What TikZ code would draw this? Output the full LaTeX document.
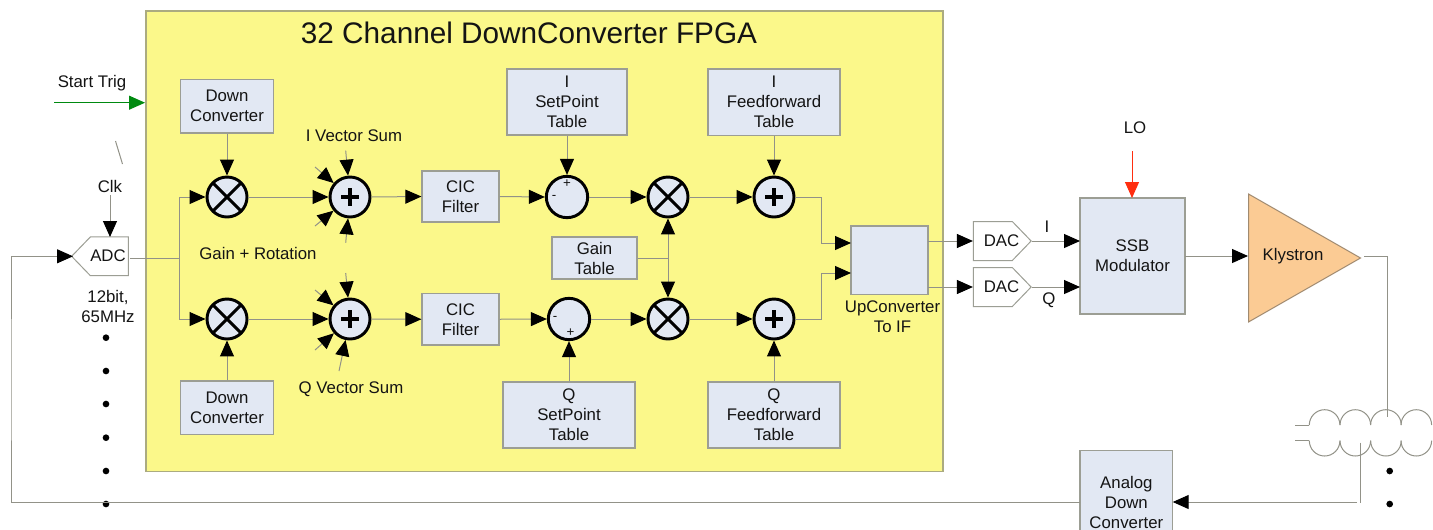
\documentclass[tikz,border=0pt]{standalone}
\usepackage{fontspec}
\setmainfont{Liberation Sans}
\usetikzlibrary{arrows.meta,shapes.geometric,shapes.symbols}
\definecolor{fpgay}{HTML}{FBF88A}
\definecolor{fpgab}{HTML}{ABAB80}
\definecolor{boxf}{HTML}{E2E8F3}
\definecolor{boxb}{HTML}{9C9E94}
\definecolor{wire}{HTML}{929288}
\definecolor{klyf}{HTML}{FBCB94}
\definecolor{klyb}{HTML}{A08A70}
\definecolor{txt}{HTML}{141414}
\definecolor{redw}{HTML}{FF2E10}
\definecolor{greenw}{HTML}{008A10}
\tikzset{
  w/.style={minimum width=#1*0.75pt},
  h/.style={minimum height=#1*0.75pt},
  lab/.style={inner sep=0pt,align=center,text=txt,font=\fontsize{12.6}{15}\selectfont},
  small/.style={inner sep=0pt,text=txt,font=\fontsize{10}{12}\selectfont},
  blockbox/.style={lab,rectangle,draw=boxb,fill=boxf,line width=0.9pt},
  conv/.style={lab,signal,draw=boxb,fill=white,line width=0.75pt,signal pointer angle=92,signal from=nowhere},
  circ/.style={circle,draw=black,fill=boxf,line width=2.2pt,inner sep=0pt,minimum size=30pt},
  multnode/.style={circ,path picture={
     \draw[line width=2.2pt] ([shift={(-16,-16)}]path picture bounding box.center) -- ([shift={(16,16)}]path picture bounding box.center);
     \draw[line width=2.2pt] ([shift={(-16,16)}]path picture bounding box.center) -- ([shift={(16,-16)}]path picture bounding box.center);}},
  sumnode/.style={circ,path picture={
     \draw[line width=2.4pt] ([shift={(-9,0)}]path picture bounding box.center) -- ([shift={(9,0)}]path picture bounding box.center);
     \draw[line width=2.4pt] ([shift={(0,-9)}]path picture bounding box.center) -- ([shift={(0,9)}]path picture bounding box.center);}},
  diffnode/.style={circ,minimum size=31pt},
  wl/.style={draw=wire,line width=0.75pt},
  arr/.style={wl,-{Triangle[length=12pt,width=10.5pt,color=black]}},
  dotm/.style={circle,fill=black,inner sep=0pt,minimum size=5pt},
}
\begin{document}
\begin{tikzpicture}[x=0.75pt,y=-0.75pt]
\useasboundingbox (0,0) rectangle (1433,529);
\clip (0,0) rectangle (1433,529);
\fill[white] (0,0) rectangle (1433,529);
% FPGA
\node[rectangle,draw=fpgab,fill=fpgay,line width=0.9pt,inner sep=0pt,w=797,h=460.5] (fpga) at (544.5,241.25) {};
\node[lab,font=\fontsize{22.3}{27}\selectfont] (title) at (529,33) {32 Channel DownConverter FPGA};
% blocks
\node[blockbox,w=92.5,h=53.5] (dc1) at (227,106.25) {Down\\Converter};
\node[blockbox,w=92.5,h=53.5] (dc2) at (227,407.75) {Down\\Converter};
\node[blockbox,w=77,h=51] (cic1) at (460.5,196.5) {CIC\\Filter};
\node[blockbox,w=77,h=51.5] (cic2) at (460.5,319.25) {CIC\\Filter};
\node[blockbox,w=120,h=66] (sp1) at (567,102) {I\\SetPoint\\Table};
\node[blockbox,w=132,h=66.5] (ff1) at (774,102.25) {I\\Feedforward\\Table};
\node[blockbox,w=132,h=66] (sp2) at (569,415) {Q\\SetPoint\\Table};
\node[blockbox,w=132,h=66] (ff2) at (774,415) {Q\\Feedforward\\Table};
\node[blockbox,w=85,h=42] (gain) at (594.5,258) {Gain\\Table};
\node[blockbox,w=77,h=68.5] (up) at (889.5,260.25) {};
\node[lab] (uplab) at (892.5,317) {UpConverter\\To IF};
\node[blockbox,w=105,h=116] (ssb) at (1132.5,256) {SSB\\Modulator};
\node[blockbox,w=92.7,h=102.6] (adb) at (1126.35,502) {Analog\\Down\\Converter};
% circles
\node[multnode] (m1) at (227,197) {};
\node[multnode] (m2) at (227,319) {};
\node[sumnode] (s1) at (350,197) {};
\node[sumnode] (s2) at (350,319) {};
\node[diffnode] (d1) at (567,197) {};
\node[diffnode] (d2) at (569,319) {};
\node[multnode] (m3) at (668,197) {};
\node[multnode] (m4) at (668,319) {};
\node[sumnode] (p1) at (774,197) {};
\node[sumnode] (p2) at (774,319) {};
\node[small] (dp1) at (567,183.5) {+};
\node[small] (dm1) at (554,197) {-};
\node[small] (dm2) at (555,318.5) {-};
\node[small] (dp2) at (570.5,332.5) {+};
% converters
\node[conv,signal to=west,w=56.7,h=38.7] (adc) at (109.35,256.3) {};
\node[lab] (adct) at (108,256) {ADC};
\node[conv,signal to=east,w=57.7,h=39] (dac1) at (992.85,241) {};
\node[lab] (dac1t) at (1001.5,240.5) {DAC};
\node[conv,signal to=east,w=57.7,h=39] (dac2) at (992.85,287) {};
\node[lab] (dac2t) at (1001.5,286.5) {DAC};
% klystron
\node[isosceles triangle,isosceles triangle stretches,draw=klyb,fill=klyf,line width=0.75pt,inner sep=0pt,w=128,h=112,anchor=lower side] (kly) at (1248,258) {};
\node[lab] (klyt) at (1293,256) {Klystron};
% labels
\node[lab] (st) at (92,83.5) {Start Trig};
\node[lab] (clk) at (110,186.5) {Clk};
\node[lab] (adcn) at (108,306) {12bit,\\65MHz};
\node[lab] (ivs) at (354,135.5) {I Vector Sum};
\node[lab] (qvs) at (351,389) {Q Vector Sum};
\node[lab] (gr) at (258,253.5) {Gain + Rotation};
\node[lab] (lo) at (1135,128) {LO};
\node[lab] (il) at (1047,227) {I};
\node[lab] (ql) at (1049,300) {Q};
% dots
\foreach \n/\yy in {a/337.7,b/371,c/404,d/437.7,e/471,f/504}{\node[dotm] (ld\n) at (106,\yy) {};}
\node[dotm] (rd1) at (1389.7,471) {};
\node[dotm] (rd2) at (1389.7,504) {};
% free ends
\coordinate (tr0) at (54,102.7); \coordinate (tr1) at (145,102.7);
\coordinate (ck0) at (110,195); \coordinate (ck1) at (110,237);
\coordinate (tk0) at (115.5,141); \coordinate (tk1) at (122.5,164);
\coordinate (ax) at (130,258); \coordinate (aj) at (179.5,258);
\coordinate (i1) at (345.7,150.7); \coordinate (i2) at (315,167); \coordinate (i3) at (315,226); \coordinate (i4) at (345.7,242.7);
\coordinate (q1) at (345.7,273); \coordinate (q2) at (315,290); \coordinate (q3) at (315,350); \coordinate (q4) at (339,371);
\coordinate (gj) at (668,258);
\coordinate (j1) at (821,220); \coordinate (j2) at (821,296);
\coordinate (u1) at (851,243); \coordinate (u2) at (851,273);
\coordinate (uo1) at (928,241); \coordinate (uo2) at (928,287);
\coordinate (si1) at (1080,241); \coordinate (si2) at (1080,287);
\coordinate (lo0) at (1132,151); \coordinate (lo1) at (1132,198);
\coordinate (so) at (1185,256); \coordinate (ki) at (1248,256);
\coordinate (ko) at (1364,256); \coordinate (kc) at (1387,256); \coordinate (kd) at (1387,416.7);
\coordinate (pu0) at (1360.7,442.7); \coordinate (pu1) at (1360.7,503);
\coordinate (pu2) at (1357,502); \coordinate (abe) at (1172.7,502); \coordinate (abw) at (1080,502);
\coordinate (lft) at (11,380); \coordinate (adin) at (73,256.3);
\coordinate (cu1) at (1309.3,425); \coordinate (cu2) at (1340,425); \coordinate (cu3) at (1370.6,425); \coordinate (cu4) at (1401,425);
\coordinate (cl1) at (1309.3,440.7); \coordinate (cl2) at (1340,440.7); \coordinate (cl3) at (1370.6,440.7); \coordinate (cl4) at (1401,440.7);
\coordinate (lu) at (1295,425); \coordinate (ll) at (1295,440.7);
% connectors
\draw[wl,-{Triangle[length=12pt,width=10.5pt,color=greenw]},draw=greenw] (tr0) -- (tr1);
\draw[wl] (tk0) -- (tk1);
\draw[arr] (ck0) -- (ck1);
\draw[wl] (ax) -- (aj);
\draw[arr] (aj) |- (m1.west);
\draw[arr] (aj) |- (m2.west);
\draw[arr] (dc1.south) -- (m1.north);
\draw[arr] (dc2.north) -- (m2.south);
\draw[arr] (m1.east) -- (s1.west);
\draw[arr] (m2.east) -- (s2.west);
\foreach \c in {i1,i2,i3,i4}{\draw[arr] (\c) -- (s1);}
\foreach \c in {q1,q2,q3,q4}{\draw[arr] (\c) -- (s2);}
\draw[arr] (s1.east) -- (cic1.west);
\draw[arr] (s2.east) -- (cic2.west);
\draw[arr] (cic1.east) -- (d1.west);
\draw[arr] (cic2.east) -- (d2.west);
\draw[arr] (d1.east) -- (m3.west);
\draw[arr] (d2.east) -- (m4.west);
\draw[arr] (sp1.south) -- (d1.north);
\draw[arr] (sp2.north) -- (d2.south);
\draw[arr] (m3.east) -- (p1.west);
\draw[arr] (m4.east) -- (p2.west);
\draw[arr] (ff1.south) -- (p1.north);
\draw[arr] (ff2.north) -- (p2.south);
\draw[wl] (gain.east) -- (gj);
\draw[arr] (gj) -- (m3.south);
\draw[arr] (gj) -- (m4.north);
\draw[arr] (p1.east) -| (j1) |- (u1);
\draw[arr] (p2.east) -| (j2) |- (u2);
\draw[arr] (uo1) -- (dac1.west);
\draw[arr] (uo2) -- (dac2.west);
\draw[arr] (dac1.east) -- (si1);
\draw[arr] (dac2.east) -- (si2);
\draw[wl,-{Triangle[length=12pt,width=10.5pt,color=redw]},draw=redw] (lo0) -- (lo1);
\draw[arr] (so) -- (ki);
\draw[wl] (ko) -- (kc) -- (kd);
\draw[wl] (pu0) -- (pu1);
\draw[arr] (pu2) -- (abe);
\draw[arr] (abw) -| (lft) |- (adin);
% coupler
\draw[wl] (lu) -- (cu1);
\draw[wl] (ll) -- (cl1);
\foreach \c in {cu1,cu2,cu3,cu4}{\draw[wl] (\c) arc[start angle=180,end angle=360,radius=15.3];}
\foreach \c in {cl1,cl2,cl3,cl4}{\draw[wl] (\c) arc[start angle=180,end angle=0,radius=15.3];}
\end{tikzpicture}
\end{document}
